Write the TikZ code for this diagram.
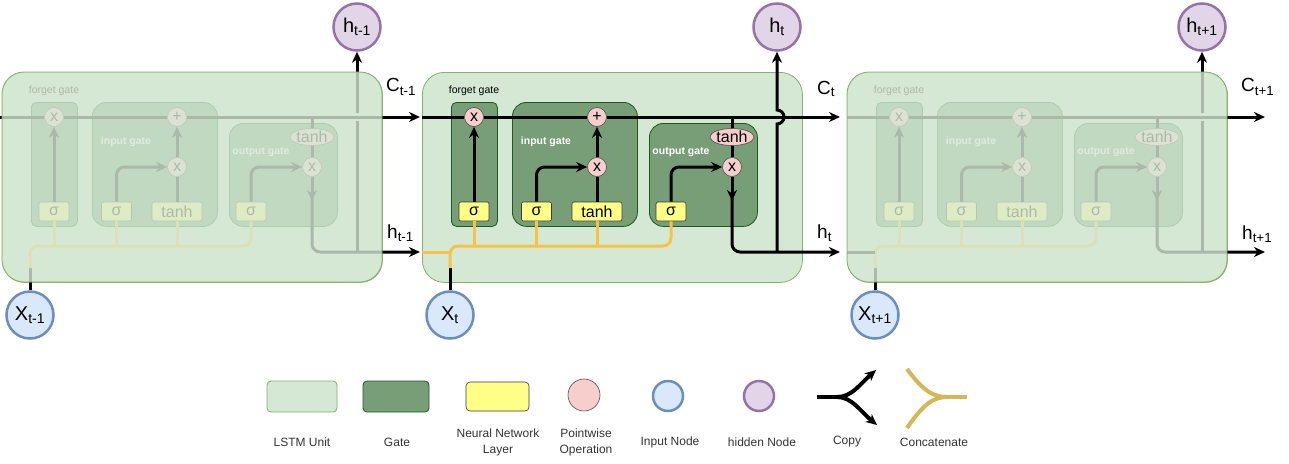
\documentclass[tikz,border=0pt]{standalone}
\usepackage{fontspec}
\setmainfont{Liberation Sans}
\usetikzlibrary{arrows.meta,shapes.geometric}
\definecolor{cellfill}{HTML}{D5E8D4}
\definecolor{cellst}{HTML}{82B366}
\definecolor{gatefill}{HTML}{779E77}
\definecolor{gatest}{HTML}{1A5C1A}
\definecolor{nnfill}{HTML}{FFFF88}
\definecolor{nnst}{HTML}{36393D}
\definecolor{pwfill}{HTML}{F8CECC}
\definecolor{pwst}{HTML}{4D4D4D}
\definecolor{infill}{HTML}{DAE8FC}
\definecolor{inst}{HTML}{6C8EBF}
\definecolor{hidfill}{HTML}{E1D5E7}
\definecolor{hidst}{HTML}{9673A6}
\definecolor{concat}{HTML}{F5C24A}
\definecolor{concatleg}{HTML}{D6B656}
\definecolor{legtext}{HTML}{333333}
\newcommand\myfs[1]{\fontsize{#1}{#1}\selectfont}
\tikzset{
  cellbox/.style={draw=cellst, fill=cellfill, line width=0.8pt, rounded corners=22pt, inner sep=0pt},
  gatebox/.style={draw=gatest, fill=gatefill, line width=0.8pt, rounded corners=14pt, inner sep=0pt},
  nnbox/.style={draw=nnst, fill=nnfill, line width=0.6pt, rounded corners=2pt, minimum height=19pt, inner sep=0pt, font=\myfs{16}},
  pw/.style={circle, draw=pwst, fill=pwfill, line width=0.6pt, minimum size=19pt, inner sep=0pt, font=\myfs{16}},
  pwell/.style={ellipse, draw=pwst, fill=pwfill, line width=0.6pt, minimum width=40pt, minimum height=17pt, inner sep=0pt, font=\myfs{16}},
  inp/.style={circle, draw=inst, fill=infill, line width=2.5pt, minimum size=47pt, inner sep=0pt, font=\myfs{20}},
  hid/.style={circle, draw=hidst, fill=hidfill, line width=2.5pt, minimum size=47pt, inner sep=0pt, font=\myfs{20}},
  wire/.style={line width=3pt, draw=black},
  ywire/.style={line width=3pt, draw=concat},
  arr/.style={-{Stealth[length=11pt,width=10pt,inset=3.5pt]}},
  lbl/.style={font=\myfs{19}, inner sep=0pt, anchor=west},
  glbl/.style={font=\myfs{10.5}, inner sep=0pt},
  wlbl/.style={font=\bfseries\myfs{10.5}, text=white, inner sep=0pt},
  leg/.style={font=\fontsize{12}{16}\selectfont, text=legtext, align=center, inner sep=0pt},
}
% #1 prefix, #2 left x, #3 C-line start x, #4 X subscript, #5 h subscript
\newcommand\lstmcell[5]{%
  \node[cellbox, minimum width=380pt, minimum height=210pt, anchor=north west] (#1cell) at (#2,72) {};
  \node[gatebox, rounded corners=5pt, minimum width=46pt, minimum height=124pt, anchor=north west] (#1fg) at ({#2+29},102) {};
  \node[gatebox, minimum width=125pt, minimum height=124pt, anchor=north west] (#1ig) at ({#2+90},102) {};
  \node[gatebox, minimum width=108pt, minimum height=103pt, anchor=north west] (#1og) at ({#2+227},123) {};
  \node[glbl] (#1fgl) at ({#2+52},91) {forget gate};
  \node[wlbl] (#1igl) at ({#2+124},142) {input gate};
  \node[wlbl] (#1ogl) at ({#2+259},152) {output gate};
  \node[pw] (#1fx) at ({#2+52},117) {x};
  \node[pw] (#1plus) at ({#2+175},117) {+};
  \node[pw] (#1ix) at ({#2+175},167) {x};
  \node[pw] (#1ox) at ({#2+310},167) {x};
  \node[pwell] (#1th) at ({#2+310},137) {tanh};
  \node[nnbox, minimum width=30pt] (#1fs) at ({#2+52},211.5) {σ};
  \node[nnbox, minimum width=30pt] (#1is) at ({#2+114.5},211.5) {σ};
  \node[nnbox, minimum width=50pt] (#1it) at ({#2+175},211.5) {tanh};
  \node[nnbox, minimum width=30pt] (#1os) at ({#2+249},211.5) {σ};
  \node[inp] (#1x) at ({#2+28},315) {X\textsubscript{#4}};
  \node[hid] (#1h) at ({#2+355},27) {h\textsubscript{#5}};
  \coordinate (#1cin) at (#3,117);
  \coordinate (#1cout) at ({#2+418},117);
  \coordinate (#1hout) at ({#2+418},252);
  \coordinate (#1hj) at ({#2+355},252);
  \coordinate (#1omid) at ({#2+310},201);
  \coordinate (#1ojoin) at ({#2+310},197);
  \coordinate (#1xtop) at ({#2+28},268);
  \coordinate (#1ycorner) at ({#2+249},246);
  % cell state line
  \draw[wire] (#1cin) -- (#1fx);
  \draw[wire] (#1fx) -- (#1plus);
  \draw[wire,arr] (#1plus) -- (#1cout);
  \draw[wire] (#1th.north) -- (#1th.north |- #1cout);
  % gates
  \draw[wire,arr] (#1fs) -- (#1fx);
  \draw[wire,arr,rounded corners=8pt] (#1is.north) |- (#1ix.west);
  \draw[wire] (#1it) -- (#1ix);
  \draw[wire,arr] (#1ix) -- (#1plus);
  \draw[wire,arr,rounded corners=8pt] (#1os.north) |- (#1ox.west);
  \draw[wire] (#1th) -- (#1ox);
  \draw[wire,arr] (#1ox) -- (#1omid);
  \draw[wire,arr,rounded corners=8pt] (#1ojoin) |- (#1hout);
  % input concatenation
  \draw[wire] (#1x.north) -- (#1xtop);
  \draw[ywire,rounded corners=8pt] (#1xtop) |- (#1ycorner) -- (#1os.south);
  \draw[ywire] (#1fs.south) -- ++(0,25);
  \draw[ywire] (#1is.south) -- ++(0,25);
  \draw[ywire] (#1it.south) -- ++(0,25);
}
\newcommand\fadecell[1]{%
  \fill[cellfill, fill opacity=0.8, rounded corners=22pt] (#1,72) rectangle ({#1+380},282);
  \draw[cellst, line width=0.8pt, rounded corners=22pt] (#1,72) rectangle ({#1+380},282);
}
\begin{document}
\begin{tikzpicture}[x=1pt,y=-1pt]
\useasboundingbox[fill=white] (0,0) rectangle (1289,463);

% ---------- left cell (faded) ----------
\lstmcell{a}{2}{0}{t-1}{t-1}
\draw[wire] (ahj) -- (357,121);
\draw[wire,arr] (357,113) -- (ah.south);
\fadecell{2}
\node[lbl] (aC) at (386,87) {C\textsubscript{t-1}};
\node[lbl] (aH) at (387,233) {h\textsubscript{t-1}};

% ---------- middle cell ----------
\lstmcell{b}{422}{422}{t}{t}
\coordinate (bhin) at (422,252);
\draw[ywire] (bhin) -- (bxtop |- bhin);
\draw[wire,arr] (bhj) -- (777,124) arc[start angle=90,end angle=-90,radius=7] -- (bh.south);
\node[lbl] (bC) at (817,89) {C\textsubscript{t}};
\node[lbl] (bH) at (817,233) {h\textsubscript{t}};

% ---------- right cell (faded) ----------
\lstmcell{c}{847}{847}{t+1}{t+1}
\coordinate (chin) at (847,252);
\draw[wire] (chin) -- (cxtop |- chin);
\draw[wire] (chj) -- (1202,121);
\draw[wire,arr] (1202,113) -- (ch.south);
\fadecell{847}
\node[lbl] (cC) at (1241,87) {C\textsubscript{t+1}};
\node[lbl] (cH) at (1242,234) {h\textsubscript{t+1}};

% ---------- legend ----------
\node[cellbox, rounded corners=4pt, minimum width=70pt, minimum height=31pt] (legcell) at (302,396.5) {};
\node[leg] (legcellt) at (302,442) {LSTM Unit};
\node[gatebox, rounded corners=4pt, minimum width=66pt, minimum height=31pt] (leggate) at (396,396.5) {};
\node[leg] (leggatet) at (397,442) {Gate};
\node[nnbox, rounded corners=4pt, minimum width=63pt, minimum height=29pt] (legnn) at (497.5,396.5) {};
\node[leg] (legnnt) at (498,442) {Neural Network\\Layer};
\node[pw, minimum size=32pt] (legpw) at (584,395) {};
\node[leg] (legpwt) at (586,442) {Pointwise\\Operation};
\node[inp, minimum size=30pt] (legin) at (668,396) {};
\node[leg] (legint) at (670,442) {Input Node};
\node[hid, minimum size=30pt] (leghid) at (759,396) {};
\node[leg] (leghidt) at (762,442) {hidden Node};
\coordinate (cpa) at (817,397);
\coordinate (cpb) at (837,397);
\coordinate (cpt) at (876,370);
\coordinate (cpd) at (877,425);
\draw[line width=4pt] (cpa) -- (cpb);
\draw[line width=4pt,arr] (cpb) .. controls (852,397) and (860,384) .. (cpt);
\draw[line width=4pt,arr] (cpb) .. controls (852,397) and (860,411) .. (cpd);
\node[leg] (legcpt) at (847,442) {Copy};
\coordinate (cca) at (907,369);
\coordinate (ccb) at (907,428);
\coordinate (ccm) at (947,397);
\coordinate (cce) at (967,397);
\draw[line width=4pt, concatleg] (cca) .. controls (924,392) and (934,397) .. (ccm);
\draw[line width=4pt, concatleg] (ccb) .. controls (924,403) and (934,397) .. (ccm);
\draw[line width=4pt, concatleg] (ccm) -- (cce);
\node[leg] (legcct) at (934,442) {Concatenate};
\end{tikzpicture}
\end{document}
